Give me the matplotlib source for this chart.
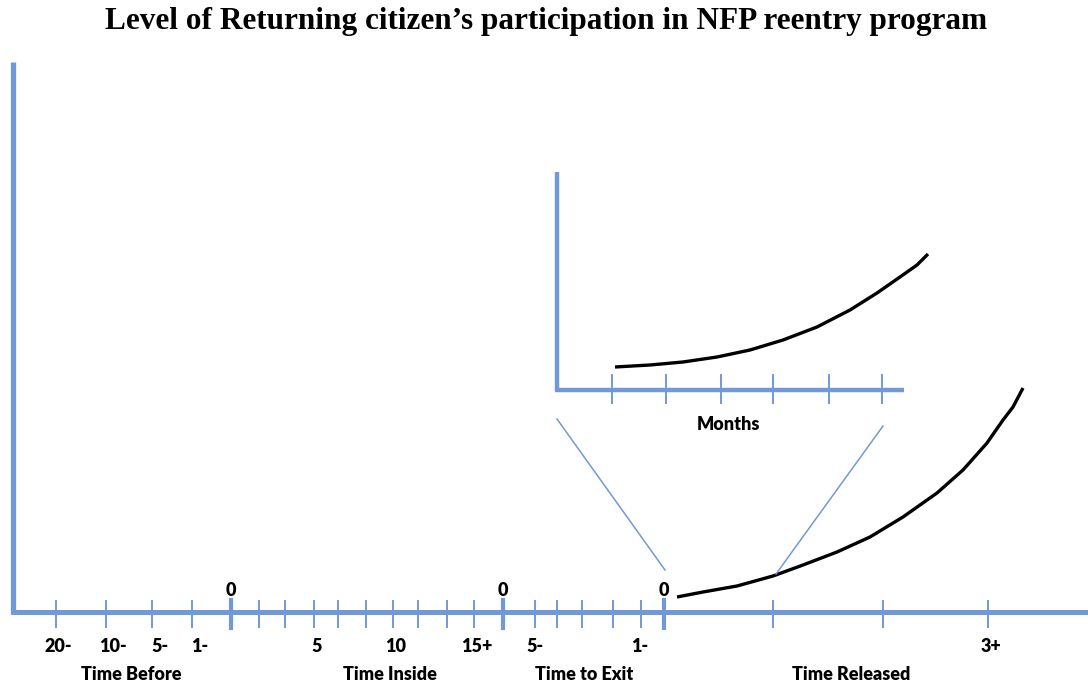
import matplotlib
matplotlib.use("Agg")
import matplotlib.pyplot as plt

# canvas frame: x to the right, y downward, same size as the figure
W, H = 1088, 683
BLUE = "#7099d6"

# main timeline
axis_y = 612
minor_ticks = [56, 106, 152, 192, 259, 285, 314, 338, 366, 393, 418, 447, 474,
               535, 557, 582, 613, 641, 773, 883, 988]
zero_ticks = [231, 503, 664]
tick_labels = ["20-", "10-", "5-", "1-", "5", "10", "15+", "5-", "1-", "3+"]
tick_label_x = [58, 113, 160, 200, 317, 396, 477, 535, 640, 991]
section_labels = ["Time Before", "Time Inside", "Time to Exit", "Time Released"]
section_x = [131, 390, 584, 851]

# participation after release
curve_x = [677, 703, 737, 773, 803, 837, 870, 903, 937, 963, 987, 1003, 1013, 1023]
curve_y = [597, 592, 586, 576, 565, 552, 537, 517, 493, 470, 443, 420, 407, 388]

# zoomed view: first months after release
inset_ticks = [612, 666, 721, 773, 829, 882]
inset_x = [615, 650, 683, 717, 750, 783, 817, 850, 877, 900, 917, 928]
inset_y = [367, 365, 362, 357, 350, 340, 327, 310, 293, 277, 265, 254]

fig = plt.figure(figsize=(W / 100, H / 100), dpi=100)
ax = fig.add_axes([0, 0, 1, 1])
ax.set_xlim(0, W)
ax.set_ylim(H, 0)
ax.axis("off")

title_font = dict(family="Liberation Serif", weight="bold", size=22.5)
label_font = dict(family="Lato", weight="heavy", size=13)

ax.text(546, 21, "Level of Returning citizen\u2019s participation in NFP reentry program",
        ha="center", va="center", **title_font)

# axes of the main chart
ax.plot([13, 13], [62, axis_y + 2], color=BLUE, lw=3.8, solid_capstyle="butt")
ax.plot([11, W], [axis_y, axis_y], color=BLUE, lw=3.6, solid_capstyle="butt")
for x in minor_ticks:
    ax.plot([x, x], [601, 627], color=BLUE, lw=1.4)
for x in zero_ticks:
    ax.plot([x, x], [600, 628], color=BLUE, lw=3.0)
    ax.text(x, 590, "0", ha="center", va="center", **label_font)

for lab, x in zip(tick_labels, tick_label_x):
    ax.text(x, 647, lab, ha="center", va="center", **label_font)
for lab, x in zip(section_labels, section_x):
    ax.text(x, 674, lab, ha="center", va="center", **label_font)

ax.plot(curve_x, curve_y, color="black", lw=2.4, solid_capstyle="butt",
        solid_joinstyle="round")

# zoomed inset
ax.plot([557, 557], [172, 391], color=BLUE, lw=3.2, solid_capstyle="butt")
ax.plot([555, 904], [390, 390], color=BLUE, lw=3.2, solid_capstyle="butt")
for x in inset_ticks:
    ax.plot([x, x], [375, 403], color=BLUE, lw=1.4)
ax.text(728, 425, "Months", ha="center", va="center", **label_font)
ax.plot(inset_x, inset_y, color="black", lw=2.4, solid_capstyle="butt",
        solid_joinstyle="round")

# guide lines from the inset down to the release point
ax.plot([557, 665], [419, 570], color=BLUE, lw=1.1)
ax.plot([883, 776], [426, 574], color=BLUE, lw=1.1)

fig.savefig("out.png", dpi=100)
